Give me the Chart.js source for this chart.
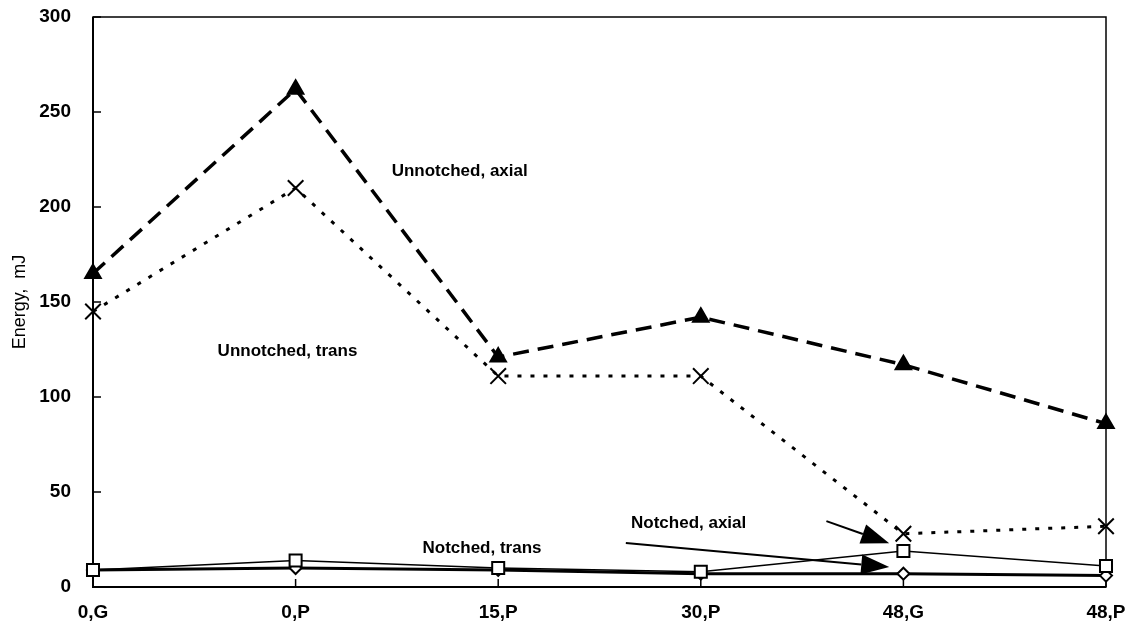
<!DOCTYPE html>
<html>
<head>
<meta charset="utf-8">
<script src="https://cdn.jsdelivr.net/npm/chart.js@4"></script>
<style>
  body{margin:0;background:#fff;}
  #wrap{width:1131px;height:636px;}
</style>
</head>
<body>
<div id="wrap"><canvas id="line-chart"></canvas></div>
<script>
let categories=["0,G","0,P","15,P","30,P","48,G","48,P"];
let unnotchedAxial=[165,262,121,142,117,86];
let unnotchedTrans=[145,210,111,111,28,32];
let notchedAxial=[9,14,10,8,19,11];
let notchedTrans=[9,10,9,7,7,6];
let yTicks=[0,50,100,150,200,250,300];

// text on the plot, placed in data units (category index, energy)
let notes=[
  {text:"Unnotched, axial",x:1.81,y:219},
  {text:"Unnotched, trans",x:0.96,y:124},
  {text:"Notched, axial",x:2.94,y:33.7},
  {text:"Notched, trans",x:1.92,y:20.5}
];
let arrows=[
  {from:[3.62,34.7],to:[3.93,23]},
  {from:[2.63,23.2],to:[3.93,10.5]}
];

Chart.defaults.font.family="'Liberation Sans', Arial, sans-serif";
Chart.defaults.color="#000";

let frame={
  id:"frame",
  beforeDatasetsDraw(chart){
    let ctx=chart.ctx, a=chart.chartArea;
    let x=chart.scales.x, y=chart.scales.y;
    ctx.save();
    ctx.strokeStyle="#000";
    ctx.lineWidth=1.5;
    ctx.strokeRect(a.left,a.top,a.right-a.left,a.bottom-a.top);
    ctx.lineWidth=2;
    ctx.beginPath();
    ctx.moveTo(a.left,a.top);ctx.lineTo(a.left,a.bottom);ctx.lineTo(a.right,a.bottom);
    ctx.stroke();
    ctx.lineWidth=1.5;
    yTicks.forEach(function(v){
      let py=y.getPixelForValue(v);
      ctx.beginPath();ctx.moveTo(a.left,py);ctx.lineTo(a.left+8,py);ctx.stroke();
    });
    categories.forEach(function(c,i){
      let px=x.getPixelForValue(i);
      ctx.beginPath();ctx.moveTo(px,a.bottom);ctx.lineTo(px,a.bottom-8);ctx.stroke();
    });
    ctx.restore();
  },
  afterDatasetsDraw(chart){
    let ctx=chart.ctx;
    let x=chart.scales.x, y=chart.scales.y;
    ctx.save();
    ctx.fillStyle="#000";
    ctx.strokeStyle="#000";
    ctx.font="bold 17px 'Liberation Sans', Arial, sans-serif";
    ctx.textAlign="center";
    ctx.textBaseline="middle";
    notes.forEach(function(n){
      ctx.fillText(n.text,x.getPixelForValue(n.x),y.getPixelForValue(n.y));
    });
    ctx.lineWidth=2;
    arrows.forEach(function(ar){
      let x0=x.getPixelForValue(ar.from[0]), y0=y.getPixelForValue(ar.from[1]);
      let x1=x.getPixelForValue(ar.to[0]), y1=y.getPixelForValue(ar.to[1]);
      let ang=Math.atan2(y1-y0,x1-x0);
      let len=28, half=10;
      let bx=x1-len*Math.cos(ang), by=y1-len*Math.sin(ang);
      ctx.beginPath();ctx.moveTo(x0,y0);ctx.lineTo(bx,by);ctx.stroke();
      ctx.beginPath();
      ctx.moveTo(x1,y1);
      ctx.lineTo(bx+half*Math.sin(ang),by-half*Math.cos(ang));
      ctx.lineTo(bx-half*Math.sin(ang),by+half*Math.cos(ang));
      ctx.closePath();ctx.fill();
    });
    ctx.restore();
  }
};

// tick marks are drawn inward by the plugin, so the library's own marks are invisible spacers
let hiddenGrid=function(len){
  return {display: true, drawOnChartArea: false, drawTicks: true, tickLength: len, tickColor: 'rgba(0,0,0,0)'};
};

new Chart(document.getElementById("line-chart"), {
    type: 'line',
    data: {
      labels: categories,
      datasets: [{
          data: unnotchedTrans,
          label: "Unnotched, trans",
          borderColor: "#000",
          borderWidth: 3,
          borderDash: [4,9],
          pointStyle: "crossRot",
          pointRadius: 11,
          pointBorderWidth: 2,
          pointBorderColor: "#000",
          fill: false,
          clip: false
        }, {
          data: unnotchedAxial,
          label: "Unnotched, axial",
          borderColor: "#000",
          borderWidth: 3.5,
          borderDash: [16,9],
          pointStyle: "triangle",
          pointRadius: 7.5,
          pointBackgroundColor: "#000",
          pointBorderColor: "#000",
          fill: false,
          clip: false
        }, {
          data: notchedAxial,
          label: "Notched, axial",
          borderColor: "#000",
          borderWidth: 1.5,
          pointStyle: "rect",
          pointRadius: 8.5,
          pointBorderWidth: 2,
          pointBackgroundColor: "#fff",
          pointBorderColor: "#000",
          fill: false,
          clip: false
        }, {
          data: notchedTrans,
          label: "Notched, trans",
          borderColor: "#000",
          borderWidth: 3,
          pointStyle: "rectRot",
          pointRadius: 6,
          pointBorderWidth: 2,
          pointBackgroundColor: "#fff",
          pointBorderColor: "#000",
          fill: false,
          clip: false
        }
      ]
    },
    options: {
      responsive: true,
      maintainAspectRatio: false,
      animation: false,
      layout: {autoPadding: false, padding: {top: 17, right: 25, left: 0, bottom: 0}},
      plugins: {legend: {display: false}, tooltip: {enabled: false}},
      elements: {line: {tension: 0}},
      scales: {
        x: {
          type: 'category',
          offset: false,
          grid: hiddenGrid(12),
          border: {display: false},
          ticks: {font: {size: 19, weight: 'bold'}, padding: 2, maxRotation: 0, autoSkip: false},
          afterFit: function(s){ s.height = 49; }
        },
        y: {
          min: 0,
          max: 300,
          grid: hiddenGrid(20),
          border: {display: false},
          ticks: {stepSize: 50, font: {size: 19, weight: 'bold'}, padding: 2},
          title: {display: true, text: "Energy,  mJ", font: {size: 18}, padding: {top: 9, bottom: 0}},
          afterFit: function(s){ s.width = 93; }
        }
      }
    },
    plugins: [frame]
  });
</script>
</body>
</html>
